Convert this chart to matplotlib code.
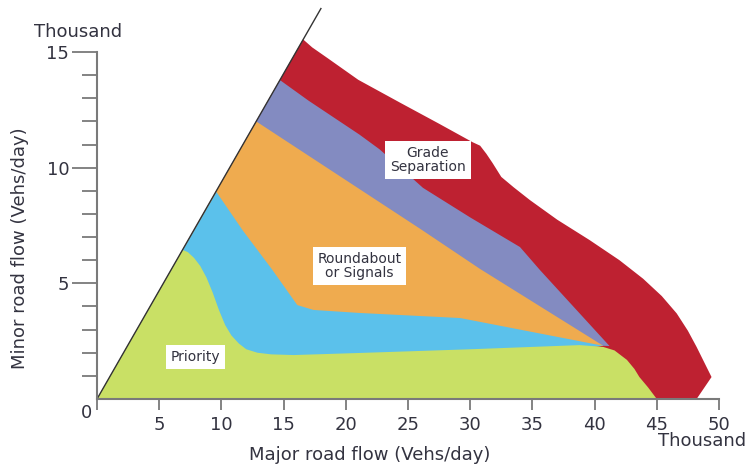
import matplotlib
matplotlib.use("Agg")
import matplotlib.pyplot as plt
from matplotlib.ticker import FixedLocator

# boundary curves (x = major road flow, y = minor road flow, thousands)
diag_x = [0, 18.0]
diag_y = [0, 16.88]

red_x = [0, 16.56, 17.3, 18.5, 21.0, 24.4, 27.5, 30.2, 30.8, 31.3, 31.8, 32.5, 33.5, 34.8,
         37.0, 39.6, 42.0, 43.9, 45.4, 46.6, 47.5, 48.2, 48.8, 49.4, 48.2]
red_y = [0, 15.55, 15.2, 14.75, 13.8, 12.8, 11.9, 11.1, 10.95, 10.6, 10.2, 9.6, 9.15, 8.6,
         7.75, 6.87, 6.0, 5.2, 4.45, 3.7, 2.95, 2.25, 1.6, 0.95, 0]

purple_x = [0, 14.7, 17.0, 21.1, 22.7, 24.5, 26.2, 30.0, 34.0, 34.6, 35.6, 41.2, 40.7]
purple_y = [0, 13.79, 12.9, 11.43, 10.8, 9.95, 9.13, 7.85, 6.57, 6.2, 5.58, 2.29, 2.3]

orange_x = [0, 12.8, 26.0, 30.8, 40.7]
orange_y = [0, 12.0, 7.35, 5.62, 2.3]

cyan_x = [0, 9.6, 11.7, 14.1, 16.1, 17.4, 21.1, 29.2, 40.7]
cyan_y = [0, 8.95, 7.3, 5.58, 4.06, 3.85, 3.72, 3.5, 2.3]

green_x = [0, 6.9, 7.3, 7.8, 8.3, 8.8, 9.3, 9.8, 10.3, 10.8, 11.4, 12.0, 12.9, 14.0, 15.8,
           21.1, 30.0, 38.8, 40.7, 41.6, 42.6, 43.2, 43.6, 44.3, 45.0]
green_y = [0, 6.44, 6.35, 6.1, 5.75, 5.25, 4.6, 3.85, 3.2, 2.75, 2.4, 2.15, 2.0, 1.93, 1.9,
           1.99, 2.15, 2.33, 2.25, 2.1, 1.69, 1.3, 0.95, 0.5, 0]

labels = ["Priority", "Roundabout\nor Signals", "Grade\nSeparation"]
label_x = [7.9, 21.1, 26.6]
label_y = [1.82, 5.75, 10.33]

xticks = [0, 5, 10, 15, 20, 25, 30, 35, 40, 45, 50]
yticks = [5, 10, 15]
yminor = [1, 2, 3, 4, 6, 7, 8, 9, 11, 12, 13, 14]

txt = "#333340"
axis_col = "#7a7a7a"

fig = plt.figure(figsize=(7.52, 4.70), dpi=100)
ax = fig.add_axes([97 / 752, 71 / 470, 622 / 752, 0.8465])
ax.set_xlim(0, 50)
ax.set_ylim(0, 17.2)

ax.fill(red_x, red_y, color="#BE2131", lw=0)
ax.fill(purple_x, purple_y, color="#838BC1", lw=0)
ax.fill(orange_x, orange_y, color="#EFAB4F", lw=0)
ax.fill(cyan_x, cyan_y, color="#5BC1EB", lw=0)
ax.fill(green_x, green_y, color="#C9E065", lw=0)
ax.plot(diag_x, diag_y, color="#333333", lw=1.0, clip_on=False)

for s, x, y in zip(labels, label_x, label_y):
    ax.text(x, y, s, ha="center", va="center", fontsize=10, color=txt,
            linespacing=0.95,
            bbox=dict(facecolor="white", edgecolor="none", pad=3.5))

for side in ["top", "right"]:
    ax.spines[side].set_visible(False)
ax.spines["left"].set_bounds(0, 15)
ax.spines["bottom"].set_bounds(0, 50)
for side in ["left", "bottom"]:
    ax.spines[side].set_color(axis_col)
    ax.spines[side].set_linewidth(1.5)

ax.set_xticks(xticks)
ax.set_xticklabels([""] + [str(v) for v in xticks[1:]])
ax.set_yticks(yticks)
ax.yaxis.set_minor_locator(FixedLocator(yminor))
ax.tick_params(axis="x", length=8, width=1.3, color=axis_col, pad=4,
               labelsize=13, labelcolor=txt)
ax.tick_params(axis="y", which="major", length=18, width=1.3, color=axis_col,
               pad=2, labelsize=13, labelcolor=txt)
ax.tick_params(axis="y", which="minor", length=11, width=1.3, color=axis_col)

fig.text(86 / 752, 1 - 413 / 470, "0", ha="center", va="center", fontsize=13, color=txt)
fig.text(78 / 752, 1 - 32 / 470, "Thousand", ha="center", va="center", fontsize=13, color=txt)
fig.text(702 / 752, 1 - 441 / 470, "Thousand", ha="center", va="center", fontsize=13, color=txt)
fig.text(20 / 752, 1 - 248 / 470, "Minor road flow (Vehs/day)", rotation=90,
         ha="center", va="center", fontsize=13, color=txt)
fig.text(370 / 752, 1 - 455 / 470, "Major road flow (Vehs/day)",
         ha="center", va="center", fontsize=13, color=txt)

fig.savefig("out.png", dpi=100)
